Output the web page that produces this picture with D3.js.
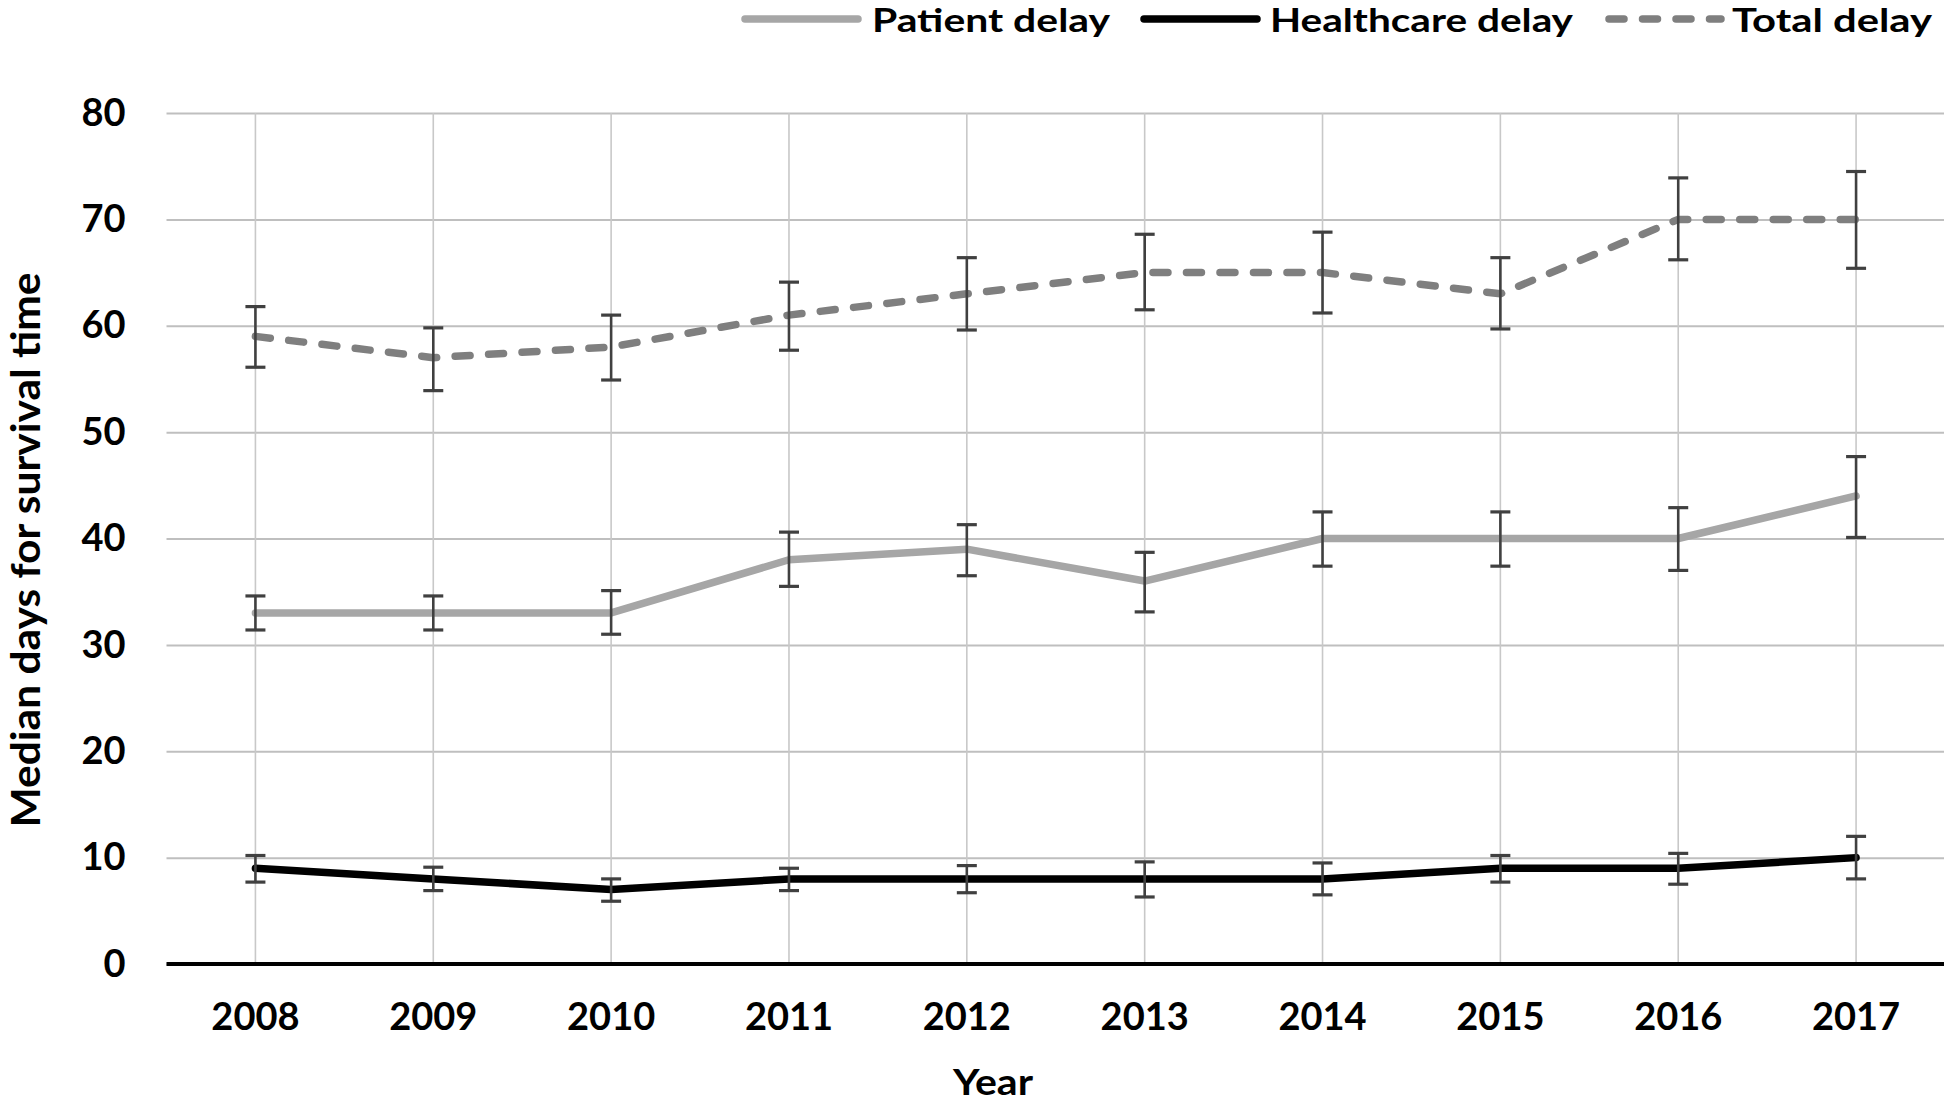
<!DOCTYPE html>
<html>
<head>
<meta charset="utf-8">
<script src="https://cdn.jsdelivr.net/npm/d3@7"></script>
<style>
  html, body { margin: 0; padding: 0; background: #fff; }
  svg { display: block; }
  text { font-family: "Lato", "Open Sans", "Noto Sans", sans-serif; font-weight: 700; fill: #000; }
</style>
</head>
<body>
<script>
// ---- Data ----
const years = ["2008","2009","2010","2011","2012","2013","2014","2015","2016","2017"];

const patientDelay     = [33, 33, 33, 38, 39, 36, 40, 40, 40, 44];
const patientLow       = [31.4, 31.4, 31.0, 35.5, 36.5, 33.1, 37.4, 37.4, 37.0, 40.1];
const patientHigh      = [34.6, 34.6, 35.1, 40.6, 41.3, 38.7, 42.5, 42.5, 42.9, 47.7];

const healthcareDelay  = [9, 8, 7, 8, 8, 8, 8, 9, 9, 10];
const healthcareLow    = [7.7, 6.9, 5.9, 6.9, 6.7, 6.3, 6.5, 7.7, 7.5, 8.0];
const healthcareHigh   = [10.2, 9.1, 8.0, 9.0, 9.25, 9.6, 9.5, 10.2, 10.4, 12.0];

const totalDelay       = [59, 57, 58, 61, 63, 65, 65, 63, 70, 70];
const totalLow         = [56.1, 53.9, 54.9, 57.7, 59.6, 61.5, 61.2, 59.7, 66.2, 65.4];
const totalHigh        = [61.8, 59.8, 61.0, 64.1, 66.4, 68.6, 68.8, 66.4, 73.9, 74.5];

const yTicks = [0, 10, 20, 30, 40, 50, 60, 70, 80];
const seriesNames = ["Patient delay", "Healthcare delay", "Total delay"];
const yTitle = "Median days for survival time";
const xTitle = "Year";

// ---- Layout ----
const W = 1944, H = 1105;
const plotLeft = 166.5, plotRight = 1945, plotTop = 113, plotBottom = 964;

const svg = d3.select("body").append("svg").attr("width", W).attr("height", H);

const x = d3.scaleBand().domain(years).range([plotLeft, plotRight]).paddingInner(0).paddingOuter(0);
const cx = d => x(d) + x.bandwidth() / 2;
const y = d3.scaleLinear().domain([0, 80]).range([plotBottom, plotTop]);

// Y axis with horizontal gridlines
const yAxis = svg.append("g")
  .attr("transform", `translate(${plotLeft},0)`)
  .call(d3.axisLeft(y).tickValues(yTicks).tickSize(-(W - plotLeft)).tickPadding(41));
yAxis.select(".domain").remove();
yAxis.selectAll(".tick line").attr("stroke", "#bfbfbf").attr("stroke-width", 2);
yAxis.selectAll(".tick text").style("font-size", "38px").attr("fill", "#000");

// X axis with vertical gridlines
const xAxis = svg.append("g")
  .attr("transform", `translate(0,${plotBottom})`)
  .call(d3.axisBottom(x).tickSize(-(plotBottom - plotTop)).tickPadding(39));
xAxis.select(".domain").remove();
xAxis.selectAll(".tick line").attr("stroke", "#c8c8c8").attr("stroke-width", 1.6);
xAxis.selectAll(".tick text").style("font-size", "38px").attr("fill", "#000");

// Baseline (x axis line)
svg.append("line")
  .attr("x1", plotLeft).attr("x2", W)
  .attr("y1", y(0)).attr("y2", y(0))
  .attr("stroke", "#000").attr("stroke-width", 4);

// ---- Series ----
const series = [
  { name: seriesNames[0], values: patientDelay, low: patientLow, high: patientHigh, color: "#a6a6a6", dash: null },
  { name: seriesNames[1], values: healthcareDelay, low: healthcareLow, high: healthcareHigh, color: "#000000", dash: null },
  { name: seriesNames[2], values: totalDelay, low: totalLow, high: totalHigh, color: "#7f7f7f", dash: "15,18.5" }
];

const line = d3.line().x((d, i) => cx(years[i])).y(d => y(d));

series.forEach(s => {
  svg.append("path")
    .datum(s.values)
    .attr("d", line)
    .attr("fill", "none")
    .attr("stroke", s.color)
    .attr("stroke-width", 7.5)
    .attr("stroke-linejoin", "round")
    .attr("stroke-linecap", "round")
    .attr("stroke-dasharray", s.dash);
});

// Error bars
const capHalf = 10;
series.forEach(s => {
  const g = svg.append("g").attr("stroke", "#404040");
  years.forEach((yr, i) => {
    const xc = cx(yr);
    g.append("line").attr("x1", xc).attr("x2", xc)
      .attr("y1", y(s.low[i])).attr("y2", y(s.high[i]))
      .attr("stroke-width", 2.6);
    [s.low[i], s.high[i]].forEach(v => {
      g.append("line").attr("x1", xc - capHalf).attr("x2", xc + capHalf)
        .attr("y1", y(v)).attr("y2", y(v))
        .attr("stroke-width", 3.2);
    });
  });
});

// ---- Titles ----
svg.append("text")
  .attr("transform", "translate(40,550) rotate(-90)")
  .attr("text-anchor", "middle")
  .style("font-size", "40px")
  .attr("textLength", 555).attr("lengthAdjust", "spacingAndGlyphs")
  .text(yTitle);

svg.append("text")
  .attr("x", 993).attr("y", 1095)
  .attr("text-anchor", "middle")
  .style("font-size", "36px")
  .attr("textLength", 80).attr("lengthAdjust", "spacingAndGlyphs")
  .text(xTitle);

// ---- Legend ----
const legendItems = [
  { s: series[0], x1: 745, x2: 858, tx: 872, tw: 238 },
  { s: series[1], x1: 1144, x2: 1257, tx: 1270, tw: 303 },
  { s: series[2], x1: 1605, x2: 1721, tx: 1732, tw: 200 }
];
const legend = svg.append("g");
legendItems.forEach(it => {
  legend.append("line")
    .attr("x1", it.x1 + (it.s.dash ? 4 : 0)).attr("x2", it.x2)
    .attr("y1", 19).attr("y2", 19)
    .attr("stroke", it.s.color)
    .attr("stroke-width", 7.5)
    .attr("stroke-linecap", "round")
    .attr("stroke-dasharray", it.s.dash);
  legend.append("text")
    .attr("x", it.tx).attr("y", 32)
    .style("font-size", "33px")
    .attr("textLength", it.tw).attr("lengthAdjust", "spacingAndGlyphs")
    .text(it.s.name);
});
</script>
</body>
</html>
